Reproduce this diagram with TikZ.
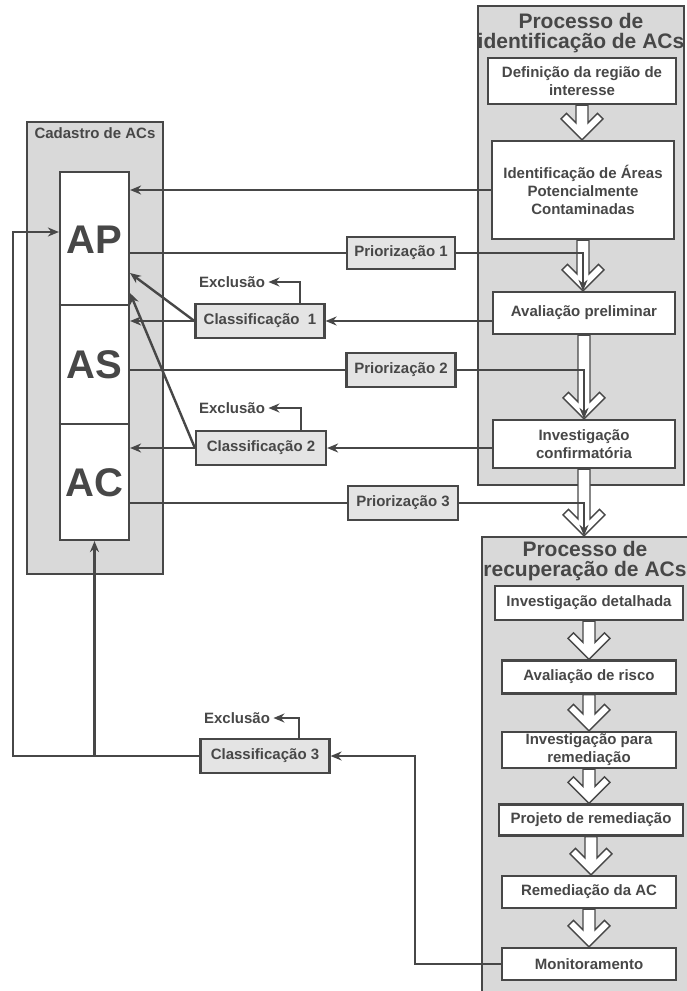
\documentclass[tikz,border=0pt]{standalone}
\usepackage{fontspec}
\setmainfont{Liberation Sans}
\usetikzlibrary{arrows.meta,calc,positioning}
\definecolor{ink}{HTML}{474747}
\definecolor{panelgray}{HTML}{D9D9D9}
\definecolor{tagfill}{HTML}{E4E4E4}

% white block arrow between two steps
\newcommand{\hollowarrow}[2]{%
  \filldraw[hollow] let \p1=#1, \p2=#2 in
    (\x2-6pt,\y1) -- (\x2-6pt,\y2+17pt) -- (\x2-15.5pt,\y2+26.5pt) -- (\x2-21pt,\y2+21pt)
    -- (\x2,\y2) -- (\x2+21pt,\y2+21pt) -- (\x2+15.5pt,\y2+26.5pt) -- (\x2+6pt,\y2+17pt)
    -- (\x2+6pt,\y1) -- cycle;}

\begin{document}
\begin{tikzpicture}[x=1pt,y=-1pt,
    every node/.style={text=ink, font=\bfseries\fontsize{15}{18}\selectfont},
    panel/.style={draw=ink, line width=2.2pt, fill=panelgray, inner sep=0pt},
    stepbox/.style={draw=ink, line width=2.2pt, fill=white, align=center, inner sep=2pt},
    tagbox/.style={draw=ink, line width=2.2pt, fill=tagfill, inner sep=2pt, minimum height=34pt},
    title/.style={font=\bfseries\fontsize{21}{20}\selectfont, align=center},
    big/.style={font=\bfseries\fontsize{40}{40}\selectfont},
    hollow/.style={draw=ink, fill=white, line width=1.4pt, line join=miter},
    link/.style={draw=ink, line width=2.4pt},
    conn/.style={link, -{Stealth[length=11pt,width=9pt]}}]
    \useasboundingbox (0,0) rectangle (686,991);
    \fill[white] (0,0) rectangle (686,991);

    % Panels
    \node[panel, minimum width=136pt, minimum height=452pt] (cad) at (95,348) {};
    \node (cadtitle) at (95,133) {Cadastro de ACs};
    \node[panel, minimum width=206pt, minimum height=479pt] (idpanel) at (581,245.5) {};
    \node[title] (idtitle) at (581,33) {Processo de\\identificação de ACs};
    \node[panel, minimum width=210pt, minimum height=459pt] (recpanel) at (587,766.5) {};
    \node[title] (rectitle) at (585,561) {Processo de\\recuperação de ACs};

    % Cadastro column
    \node[stepbox, minimum width=69pt, minimum height=368pt] (col) at (94.5,356) {};
    \draw[ink, line width=1.2pt] (col.west |- 0,305) -- (col.east |- 0,305);
    \draw[ink, line width=1.2pt] (col.west |- 0,424) -- (col.east |- 0,424);
    \node[big] (ap) at (94.5,240) {AP};
    \node[big] (as) at (94.5,365) {AS};
    \node[big] (ac) at (94.5,483) {AC};

    % Identification steps
    \node[stepbox, minimum width=188pt, minimum height=46pt] (defin) at (582,81) {Definição da região de\\interesse};
    \node[stepbox, minimum width=182pt, minimum height=98pt] (ident) at (583,190) {Identificação de Áreas\\Potencialmente\\Contaminadas};
    \node[stepbox, minimum width=182pt, minimum height=42pt] (aval) at (584,313) {Avaliação preliminar};
    \node[stepbox, minimum width=182pt, minimum height=48pt] (conf) at (584,444) {Investigação\\confirmatória};

    % Recovery steps
    \node[stepbox, minimum width=188pt, minimum height=34pt] (detal) at (589,603) {Investigação detalhada};
    \node[stepbox, minimum width=174pt, minimum height=33pt] (risco) at (589,677) {Avaliação de risco};
    \node[stepbox, minimum width=174pt, minimum height=33pt] (invrem) at (589,750) {Investigação para\\remediação};
    \node[stepbox, minimum width=184pt, minimum height=31pt] (proj) at (591,820) {Projeto de remediação};
    \node[stepbox, minimum width=174pt, minimum height=32pt] (remed) at (589,892) {Remediação da AC};
    \node[stepbox, minimum width=174pt, minimum height=32pt] (monit) at (589,964) {Monitoramento};

    % Priorização / Classificação
    \node[tagbox, minimum width=108pt, minimum height=32pt] (prio1) at (401,253) {Priorização 1};
    \node[tagbox, minimum width=109pt] (prio2) at (401,370) {Priorização 2};
    \node[tagbox, minimum width=110pt] (prio3) at (403,503) {Priorização 3};
    \node[tagbox, minimum width=129pt] (class1) at (260,321) {Classificação~~1};
    \node[tagbox, minimum width=130pt] (class2) at (261,448) {Classificação 2};
    \node[tagbox, minimum width=129pt] (class3) at (265,756) {Classificação 3};
    \node (excl1) at (232,282) {Exclusão};
    \node (excl2) at (232,408) {Exclusão};
    \node (excl3) at (237,718) {Exclusão};

    \coordinate (apin1) at (130,273);
    \coordinate (apin2) at (130,293);
    \coordinate (rail) at (13,232);

    % Block arrows
    \hollowarrow{(defin.south)}{(defin.south |- ident.north)}
    \hollowarrow{(ident.south)}{(ident.south |- aval.north)}
    \hollowarrow{(aval.south)}{(aval.south |- conf.north)}
    \hollowarrow{(conf.south)}{(conf.south |- recpanel.north)}
    \hollowarrow{(detal.south)}{(detal.south |- risco.north)}
    \hollowarrow{(risco.south)}{(risco.south |- invrem.north)}
    \hollowarrow{(invrem.south)}{(invrem.south |- proj.north)}
    \hollowarrow{(proj.south)}{(proj.south |- remed.north)}
    \hollowarrow{(remed.south)}{(remed.south |- monit.north)}

    % Connectors
    \draw[conn] (ident.west) -- (ident.west -| col.east);
    \draw[link] (prio1.west -| col.east) -- (prio1.west);
    \draw[conn] (prio1.east) -| (ident.south |- aval.north);
    \draw[link] (prio2.west -| col.east) -- (prio2.west);
    \draw[conn] (prio2.east) -| (aval.south |- conf.north);
    \draw[link] (prio3.west -| col.east) -- (prio3.west);
    \draw[conn] (prio3.east) -| (conf.south |- recpanel.north);

    \draw[conn] (aval.west |- class1.east) -- (class1.east);
    \draw[conn] (class1.west) -- (class1.west -| col.east);
    \draw[conn] (class1.west) -- (apin1);
    \draw[conn] ([xshift=40pt]class1.north) |- (excl1.east);

    \draw[conn] (conf.west |- class2.east) -- (class2.east);
    \draw[conn] (class2.west) -- (class2.west -| col.east);
    \draw[conn] (class2.west) -- (apin2);
    \draw[conn] ([xshift=40pt]class2.north) |- (excl2.east);

    \draw[conn] (monit.west) -- ++(-86,0) |- (class3.east);
    \draw[conn] ([xshift=34pt]class3.north) |- (excl3.east);
    \draw[conn] (class3.west) -| (rail) -- (rail -| col.west);
    \draw[conn] (class3.west -| col.south) -- (col.south);
\end{tikzpicture}
\end{document}
